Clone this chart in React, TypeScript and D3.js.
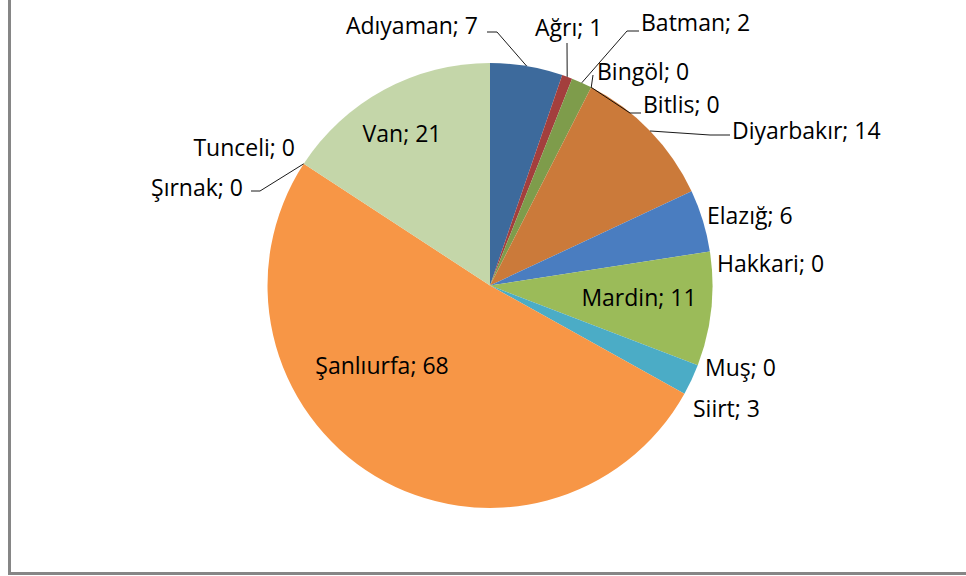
import React from "react";
import * as d3 from "d3";

const provinces = ["Adıyaman", "Ağrı", "Batman", "Bingöl", "Bitlis", "Diyarbakır", "Elazığ", "Hakkari", "Mardin", "Muş", "Siirt", "Şanlıurfa", "Şırnak", "Tunceli", "Van"];
const counts = [7, 1, 2, 0, 0, 14, 6, 0, 11, 0, 3, 68, 0, 0, 21];
const colors = ["#3D6A9C", "#A33F3D", "#7E9C4B", "#AB84C6", "#4BACC6", "#CB7A3A", "#4A7DC0", "#C0504D", "#9BBB59", "#8064A2", "#4BACC6", "#F79646", "#2C4D75", "#772C2A", "#C4D6A9"];

// label layout: [x, y, anchor, leader points (after the pie-edge point)]
type Lay = { x: number; y: number; anchor: string; leader?: [number, number][] };
const labelLayout: Lay[] = [
  { x: 478, y: 25, anchor: "end", leader: [[497, 32], [487, 32]] },
  { x: 535, y: 27, anchor: "start", leader: [[567, 43]] },
  { x: 641, y: 22, anchor: "start", leader: [[627, 31], [639, 31]] },
  { x: 597, y: 71, anchor: "start", leader: [[593, 75]] },
  { x: 643, y: 104, anchor: "start", leader: [[630, 113], [641, 113]] },
  { x: 732, y: 130, anchor: "start", leader: [[710, 135], [730, 135]] },
  { x: 707, y: 215, anchor: "start" },
  { x: 717, y: 263, anchor: "start" },
  { x: 639, y: 297, anchor: "middle" },
  { x: 705, y: 367, anchor: "start" },
  { x: 693, y: 408, anchor: "start" },
  { x: 382, y: 365, anchor: "middle" },
  { x: 243, y: 187, anchor: "end", leader: [[260, 191], [251, 191]] },
  { x: 295, y: 147, anchor: "end" },
  { x: 402, y: 133, anchor: "middle" },
];

const W = 966, H = 576;
const cx = 490, cy = 285.5, R = 222.5;

export default function App() {
  const data = provinces.map((p, i) => ({ name: p, value: counts[i], i }));
  const pie = d3.pie<any>().value((d) => d.value).sort(null).startAngle(0).endAngle(2 * Math.PI);
  const arcs = pie(data);
  const arc = d3.arc<any>().innerRadius(0).outerRadius(R);
  const edge = (a: number): [number, number] => [cx + R * Math.sin(a), cy - R * Math.cos(a)];

  return (
    <svg width={W} height={H} style={{ position: "absolute", left: 0, top: 0, background: "#fff" }}>
      <rect x={0} y={0} width={W} height={H} fill="#fff" />
      <g transform={`translate(${cx},${cy})`}>
        {arcs.map((a, k) => (
          <path key={k} d={arc(a) || ""} fill={colors[k]} />
        ))}
      </g>
      {arcs.map((a, k) => {
        const lay = labelLayout[k];
        if (!lay.leader) return null;
        const mid = (a.startAngle + a.endAngle) / 2;
        const pts = [edge(mid), ...lay.leader];
        return (
          <polyline key={"l" + k} points={pts.map((p) => p.join(",")).join(" ")} fill="none" stroke="#000" strokeWidth={0.9} />
        );
      })}
      {arcs.map((a, k) => {
        const lay = labelLayout[k];
        return (
          <text key={"t" + k} x={lay.x} y={lay.y} textAnchor={lay.anchor} dominantBaseline="central"
            fontFamily="'Open Sans', Lato, sans-serif" fontSize={23} fill="#000">
            {`${a.data.name}; ${a.data.value}`}
          </text>
        );
      })}
      <line x1={9.5} y1={0} x2={9.5} y2={574} stroke="#868686" strokeWidth={3} />
      <line x1={8} y1={573.5} x2={W} y2={573.5} stroke="#868686" strokeWidth={3} />
    </svg>
  );
}
